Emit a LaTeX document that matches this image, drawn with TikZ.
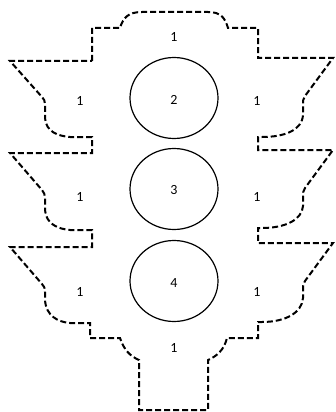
\documentclass[tikz,border=0pt]{standalone}
\usepackage{fontspec}
\setmainfont{Carlito}
\usetikzlibrary{shapes.geometric}
\begin{document}
\begin{tikzpicture}[x=1pt,y=-1pt,
  outline/.style={line width=2pt, dash pattern=on 6pt off 3pt},
  lamp/.style={draw, line width=1.2pt, ellipse, minimum width=88pt, minimum height=81pt, inner sep=0pt},
  lbl/.style={font=\fontsize{14}{16}\selectfont, inner sep=0pt}]
\useasboundingbox (0,0) rectangle (336,412);
\draw[outline] (92,61) -- (92,28) -- (120,28)
  .. controls (123,18) and (128,12) .. (142,12) -- (208,12)
  .. controls (221,12) and (225,18) .. (228,28) -- (258,28) -- (258,58) -- (333,58)
  -- (305,96) .. controls (303,99) and (303,101) .. (303,104) -- (303,115)
  .. controls (302,130) and (285,137) .. (262,137) -- (258,137) -- (258,150) -- (333,150)
  -- (305,188) .. controls (303,191) and (303,193) .. (303,196) -- (303,206)
  .. controls (302,220) and (285,228) .. (262,228) -- (258,228) -- (258,243) -- (333,243)
  -- (305,281) .. controls (303,284) and (303,286) .. (303,289) -- (303,298)
  .. controls (302,313) and (285,322) .. (262,322) -- (258,322) -- (258,338) -- (227,338)
  .. controls (224,350) and (217,356) .. (208,360) -- (208,410) -- (139,410) -- (139,360)
  .. controls (130,356) and (124,350) .. (120,338) -- (90,338) -- (90,323) -- (70,323)
  .. controls (58,322) and (46,316) .. (45,300) -- (45,292)
  .. controls (45,288) and (44,286) .. (42,284) -- (10,247) -- (92,247) -- (92,230) -- (70,230)
  .. controls (58,229) and (46,224) .. (45,210) -- (45,198)
  .. controls (45,195) and (44,192) .. (42,190) -- (10,153) -- (92,153) -- (92,137) -- (70,137)
  .. controls (58,136) and (46,132) .. (45,118) -- (45,104)
  .. controls (45,101) and (44,99) .. (42,97) -- (10,61) -- cycle;
\node[lamp] (l2) at (174,98) {};
\node[lamp] (l3) at (174,189) {};
\node[lamp] (l4) at (174,281) {};
\node[lbl] (n2) at (174,100) {2};
\node[lbl] (n3) at (174,190) {3};
\node[lbl] (n4) at (174,283) {4};
\node[lbl] (t1) at (174,37) {1};
\node[lbl] (a1) at (80,101) {1};
\node[lbl] (b1) at (257,101) {1};
\node[lbl] (c1) at (80,197) {1};
\node[lbl] (d1) at (257,197) {1};
\node[lbl] (e1) at (80,292) {1};
\node[lbl] (f1) at (257,292) {1};
\node[lbl] (g1) at (174,348) {1};
\end{tikzpicture}
\end{document}
